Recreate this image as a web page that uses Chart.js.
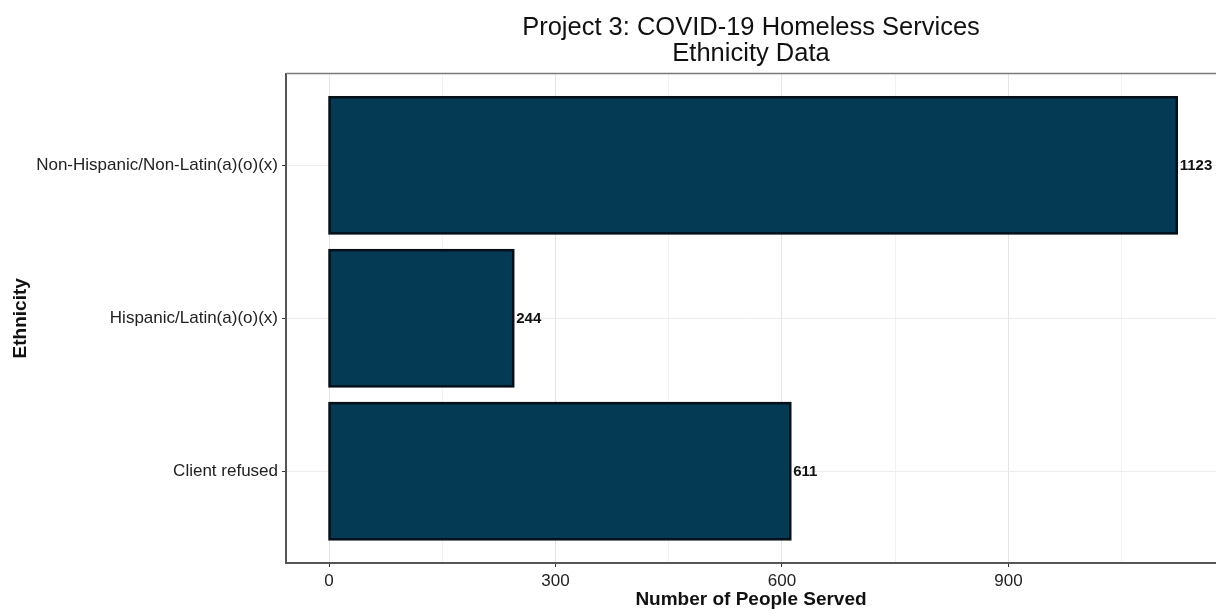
<!DOCTYPE html>
<html>
<head>
<meta charset="utf-8">
<script src="https://cdn.jsdelivr.net/npm/chart.js@4"></script>
<style>
  html, body { margin: 0; padding: 0; background: #fff; overflow: hidden; }
  #wrap { width: 1216px; height: 611px; }
</style>
</head>
<body>
<div id="wrap"><canvas id="chart" width="1216" height="611"></canvas></div>
<script>
// data, top to bottom
const categories = ['Non-Hispanic/Non-Latin(a)(o)(x)', 'Hispanic/Latin(a)(o)(x)', 'Client refused'];
const served = [1123, 244, 611];
const xTicks = [0, 150, 300, 450, 600, 750, 900, 1050];
const xLabelTicks = [0, 300, 600, 900];

Chart.defaults.font.family = '"Liberation Sans", Arial, sans-serif';
Chart.defaults.color = '#1a1a1a';

// dark outline round each bar plus the value text at its end
const barLabels = {
  id: 'barLabels',
  afterDatasetsDraw(chart) {
    const ctx = chart.ctx;
    const meta = chart.getDatasetMeta(0);
    ctx.save();
    ctx.strokeStyle = '#06101a';
    ctx.lineWidth = 2.5;
    meta.data.forEach(bar => {
      const p = bar.getProps(['x', 'y', 'base', 'height'], true);
      ctx.strokeRect(p.base, p.y - p.height / 2, p.x - p.base, p.height);
    });
    ctx.font = 'bold 15px "Liberation Sans", Arial, sans-serif';
    ctx.fillStyle = '#111';
    ctx.textAlign = 'left';
    ctx.textBaseline = 'middle';
    meta.data.forEach((bar, i) => {
      ctx.fillText(String(served[i]), bar.x + 3, bar.y + 1);
    });
    ctx.restore();
  }
};

// gray top edge of the panel
const panelTop = {
  id: 'panelTop',
  afterDraw(chart) {
    const a = chart.chartArea;
    const ctx = chart.ctx;
    ctx.save();
    ctx.strokeStyle = '#7a7a7a';
    ctx.lineWidth = 1.5;
    ctx.beginPath();
    ctx.moveTo(a.left, a.top);
    ctx.lineTo(a.right, a.top);
    ctx.stroke();
    ctx.restore();
  }
};

new Chart(document.getElementById('chart'), {
  type: 'bar',
  data: {
    datasets: [{
      data: served.map((v, i) => ({ x: v, y: i + 1 })),
      backgroundColor: '#053a54',
      borderWidth: 0,
      barPercentage: 0.89,
      categoryPercentage: 1
    }]
  },
  options: {
    indexAxis: 'y',
    responsive: false,
    animation: false,
    layout: { padding: 0 },
    plugins: {
      legend: { display: false },
      tooltip: { enabled: false },
      title: {
        display: true,
        fullSize: false,
        text: ['Project 3: COVID-19 Homeless Services', 'Ethnicity Data'],
        color: '#111',
        font: { size: 25.5, weight: 'normal', lineHeight: 1.03 },
        padding: { top: 15, bottom: 6 }
      }
    },
    scales: {
      x: {
        type: 'linear',
        min: -57,
        max: 1175,
        offset: false,
        afterBuildTicks: s => { s.ticks = xTicks.map(v => ({ value: v })); },
        afterFit: s => { s.height = 48; },
        grid: {
          offset: false,
          color: c => xLabelTicks.includes(c.tick.value) ? '#e4e4e4' : '#f2f2f2',
          tickColor: c => xLabelTicks.includes(c.tick.value) ? '#333' : 'rgba(0,0,0,0)',
          tickLength: 4,
          lineWidth: 1
        },
        border: { color: '#555', width: 2 },
        ticks: {
          autoSkip: false,
          maxRotation: 0,
          padding: 4,
          font: { size: 17 },
          color: '#222',
          callback: v => xLabelTicks.includes(v) ? String(v) : ''
        },
        title: {
          display: true,
          text: 'Number of People Served',
          color: '#111',
          font: { size: 19, weight: 'bold' },
          padding: { top: 0, bottom: 0 }
        }
      },
      y: {
        type: 'linear',
        reverse: true,
        min: 0.4,
        max: 3.6,
        offset: false,
        afterBuildTicks: s => { s.ticks = categories.map((c, i) => ({ value: i + 1 })); },
        afterFit: s => { s.width = 286; },
        grid: { offset: false, color: '#ececec', tickColor: '#333', tickLength: 4, lineWidth: 1 },
        border: { color: '#555', width: 2 },
        ticks: {
          autoSkip: false,
          padding: 4,
          font: { size: 17 },
          color: '#222',
          callback: v => categories[v - 1] || ''
        },
        title: {
          display: true,
          text: 'Ethnicity',
          color: '#111',
          font: { size: 19, weight: 'bold' },
          padding: { top: 9, bottom: 0 }
        }
      }
    }
  },
  plugins: [barLabels, panelTop]
});
</script>
</body>
</html>
